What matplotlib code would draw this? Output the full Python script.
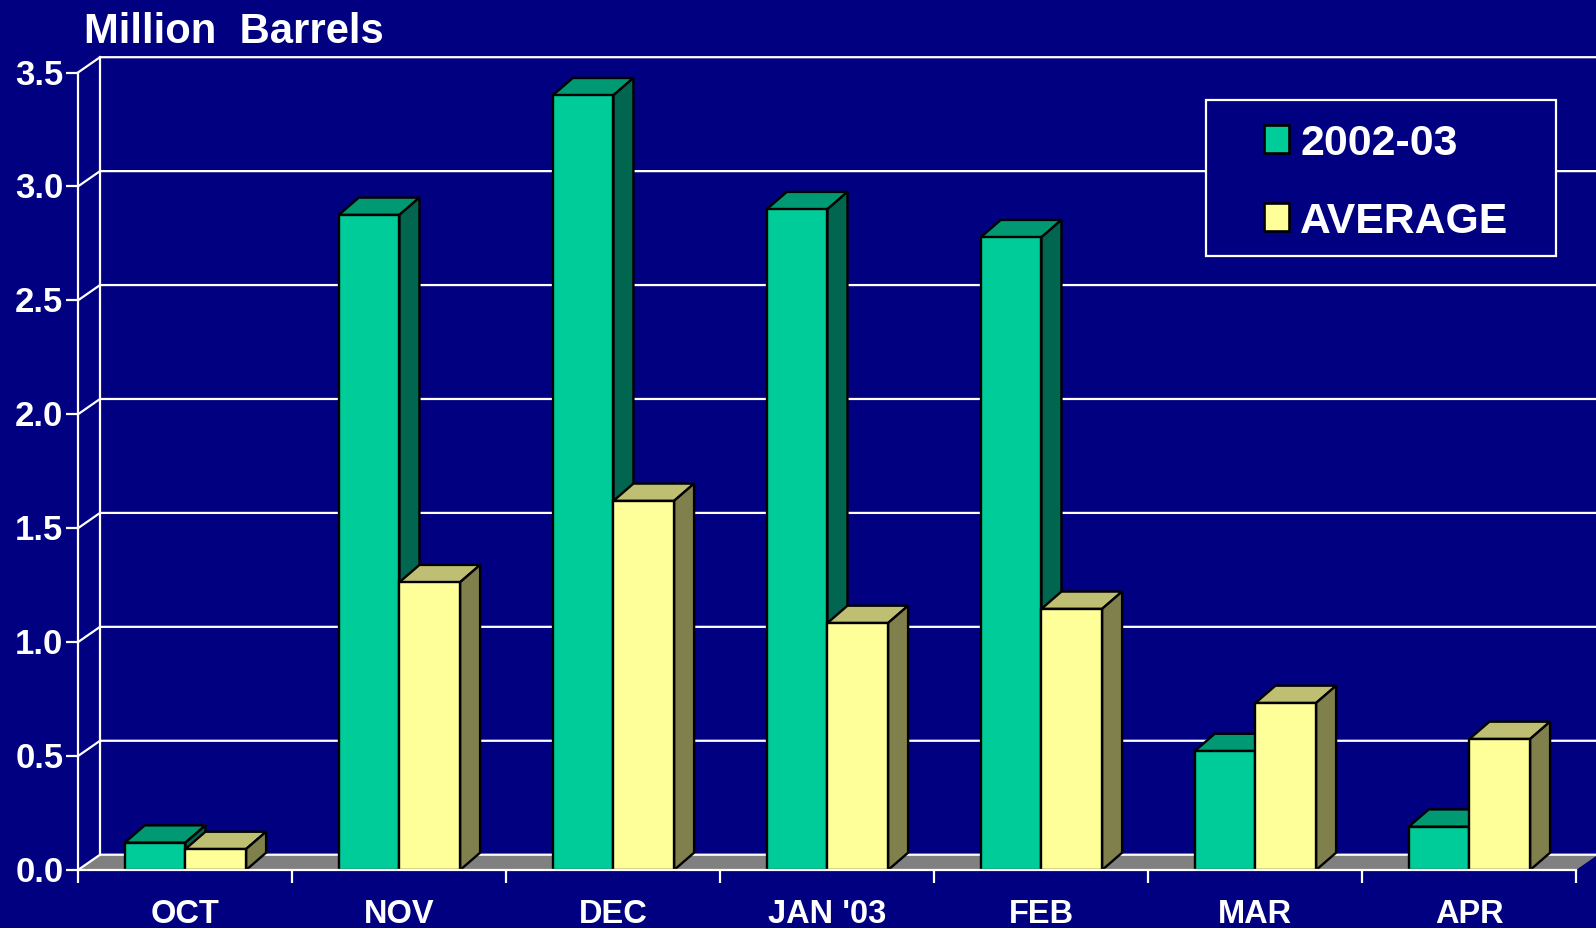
import matplotlib
matplotlib.use("Agg")
import matplotlib.pyplot as plt
from matplotlib.patches import Polygon, Patch, Rectangle
from matplotlib.transforms import ScaledTranslation
import numpy as np

months = ["OCT", "NOV", "DEC", "JAN '03", "FEB", "MAR", "APR"]
series_2002 = [0.12, 2.875, 3.40, 2.90, 2.777, 0.522, 0.19]
series_avg = [0.092, 1.263, 1.62, 1.084, 1.146, 0.733, 0.575]
y_ticks = [0.0, 0.5, 1.0, 1.5, 2.0, 2.5, 3.0, 3.5]
title = "Million  Barrels"

W, H = 1596, 929
BG = "#000080"
FONT = "Liberation Sans"
LW_W = 1.6
LW_K = 1.7

fig = plt.figure(figsize=(W / 100, H / 100), dpi=100, facecolor=BG)
L, R, B, T = 78, 1576, 871, 73.5
ax = fig.add_axes([L / W, 1 - B / H, (R - L) / W, (B - T) / H], facecolor="none")
ax.set_xlim(0, len(months))
ax.set_ylim(0, 3.5)

PX = (R - L) / len(months)
PY = (B - T) / 3.5
# depth of the back wall and of the bars, in data units
DX, DY = 22 / PX, 15.3 / PY
BDX, BDY = 20 / PX, 17.3 / PY
BAR_W = 0.2835
SHIFT = 0.002

# floor
ax.add_patch(Polygon([(0, 0), (DX, DY), (len(months) + DX, DY), (len(months), 0)],
                     closed=True, fc="#808080", ec="none", zorder=1, clip_on=False))
# back wall grid
for v in y_ticks:
    ax.plot([0, DX, len(months) + DX + 0.1], [v, v + DY, v + DY], color="white",
            lw=LW_W, zorder=1.2, clip_on=False, solid_joinstyle="miter")
ax.plot([DX, DX], [DY, 3.5 + DY], color="white", lw=LW_W, zorder=1.2, clip_on=False)


def bar3d(x0, v, front, top, side, z):
    ax.bar(x0, v, BAR_W, align="edge", color=front, edgecolor="black", linewidth=LW_K,
           zorder=z + 0.02, clip_on=False)
    ax.add_patch(Polygon([(x0, v), (x0 + BDX, v + BDY), (x0 + BAR_W + BDX, v + BDY), (x0 + BAR_W, v)],
                         closed=True, fc=top, ec="black", lw=LW_K, zorder=z, clip_on=False,
                         joinstyle="miter"))
    ax.add_patch(Polygon([(x0 + BAR_W, 0), (x0 + BAR_W + BDX, BDY), (x0 + BAR_W + BDX, v + BDY), (x0 + BAR_W, v)],
                         closed=True, fc=side, ec="black", lw=LW_K, zorder=z, clip_on=False,
                         joinstyle="miter"))


for i, (a, b) in enumerate(zip(series_2002, series_avg)):
    c = i + 0.5 + SHIFT
    bar3d(c - BAR_W, a, "#00CC99", "#009973", "#006650", 1.5 + i * 0.1)
    bar3d(c, b, "#FFFF99", "#BFBF73", "#80804D", 1.55 + i * 0.1)

for s in ("top", "right"):
    ax.spines[s].set_visible(False)
for s in ("left", "bottom"):
    ax.spines[s].set_color("white")
    ax.spines[s].set_linewidth(LW_W)
    ax.spines[s].set_zorder(3)

ax.set_yticks(y_ticks)
ax.set_yticklabels([f"{v:.1f}" for v in y_ticks], fontname=FONT, fontweight="bold",
                   fontsize=25, color="white")
ax.tick_params(axis="y", length=9, width=LW_W, color="white", pad=1.5)
up = ScaledTranslation(0, 2 / 100, fig.dpi_scale_trans)
for lab in ax.get_yticklabels():
    lab.set_transform(lab.get_transform() + up)

ax.set_xticks(np.arange(len(months) + 1))
ax.set_xticklabels([])
ax.set_xticks(np.arange(len(months)) + 0.5 + SHIFT, minor=True)
ax.set_xticklabels(months, minor=True, fontname=FONT, fontweight="bold", fontsize=23.5, color="white")
ax.tick_params(axis="x", which="major", length=9.4, width=LW_W, color="white")
ax.tick_params(axis="x", which="minor", length=0, pad=20.5)

fig.text(84.5 / W, 1 - 42.7 / H, title, fontname=FONT, fontweight="bold", fontsize=30.1,
         color="white", ha="left", va="baseline")

# legend box
fig.add_artist(Rectangle((1206 / W, 1 - 256.7 / H), 350 / W, 156 / H, transform=fig.transFigure,
                         fc=BG, ec="white", lw=LW_W, zorder=4))
handles = [Patch(fc="#00CC99", ec="black", lw=LW_K + 0.2, label="2002-03"),
           Patch(fc="#FFFF99", ec="black", lw=LW_K + 0.2, label="AVERAGE")]
leg = fig.legend(handles=handles, loc="upper left",
                 bbox_to_anchor=(1263.5 / W, 1 - 124 / H), bbox_transform=fig.transFigure,
                 borderaxespad=0, borderpad=0, handlelength=0.6, handleheight=0.6,
                 handletextpad=0.26, labelspacing=0.89, frameon=False,
                 prop={"family": FONT, "weight": "bold", "size": 30.8})
leg.set_zorder(5)
for t in leg.get_texts():
    t.set_color("white")

fig.savefig("out.png", dpi=100, facecolor=BG)
